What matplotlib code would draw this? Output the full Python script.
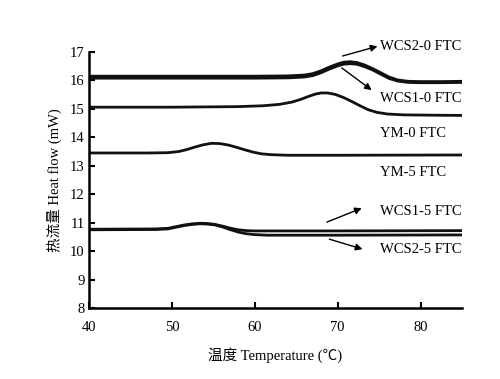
import matplotlib
matplotlib.use("Agg")
import matplotlib.pyplot as plt

plt.rcParams['font.family'] = ['Liberation Serif', 'Noto Sans CJK SC', 'DejaVu Sans']

# Data
x_wcs0 = [40, 50, 60, 64, 66, 67, 68, 69, 70, 70.7, 71.5, 72.3, 73.2, 74.2, 75.2, 76.2, 77.2, 78.5, 80, 82.5, 85]
y_wcs2_0 = [16.15, 16.15, 16.15, 16.16, 16.19, 16.24, 16.34, 16.47, 16.58, 16.64, 16.66, 16.63, 16.55, 16.42,
            16.27, 16.12, 16.02, 15.97, 15.96, 15.96, 15.97]
y_wcs1_0 = [16.08, 16.08, 16.08, 16.09, 16.12, 16.17, 16.27, 16.40, 16.51, 16.57, 16.59, 16.57, 16.49, 16.37,
            16.22, 16.07, 15.98, 15.93, 15.92, 15.92, 15.93]

x_ym0 = [40, 50, 58, 61, 63, 64.5, 65.5, 66.5, 67.3, 68, 68.8, 69.7, 70.7, 71.7, 72.7, 73.7, 74.7, 76, 78, 81, 85]
y_ym0 = [15.06, 15.06, 15.08, 15.11, 15.16, 15.24, 15.33, 15.44, 15.52, 15.56, 15.56, 15.51, 15.40, 15.26,
         15.11, 14.97, 14.88, 14.82, 14.79, 14.78, 14.77]

x_ym5 = [40, 47, 49.5, 50.8, 51.8, 52.8, 53.8, 54.8, 55.8, 56.8, 57.8, 58.8, 59.8, 60.8, 62, 64, 70, 85]
y_ym5 = [13.45, 13.45, 13.46, 13.50, 13.57, 13.66, 13.74, 13.79, 13.78, 13.73, 13.65, 13.56, 13.48, 13.42,
         13.39, 13.37, 13.37, 13.38]

x_wcs5 = [40, 48, 49.5, 50.5, 51.5, 52.5, 53.4, 54.3, 55.2, 56.1, 57, 58, 59, 60, 61.5, 64, 70, 85]
y_wcs1_5 = [10.77, 10.78, 10.80, 10.86, 10.92, 10.96, 10.98, 10.97, 10.94, 10.88, 10.81, 10.75, 10.72, 10.71,
            10.71, 10.71, 10.71, 10.72]
y_wcs2_5 = [10.75, 10.76, 10.78, 10.84, 10.90, 10.94, 10.96, 10.95, 10.92, 10.85, 10.76, 10.67, 10.61, 10.58,
            10.56, 10.56, 10.56, 10.57]

labels = ['WCS2-0 FTC', 'WCS1-0 FTC', 'YM-0 FTC', 'YM-5 FTC', 'WCS1-5 FTC', 'WCS2-5 FTC']
label_y = [17.21, 15.38, 14.15, 12.78, 11.41, 10.04]

xticks = [40, 50, 60, 70, 80]
yticks = [8, 9, 10, 11, 12, 13, 14, 15, 16, 17]

fig = plt.figure(figsize=(5.0, 3.79), dpi=100)
ax = fig.add_axes([0.178, 0.1873, 0.746, 0.6755])

lc = '#111111'
lw = 2.0
kw = dict(color=lc, lw=lw, solid_joinstyle='round', solid_capstyle='butt')
ax.plot(x_wcs0, y_wcs2_0, **kw)
ax.plot(x_wcs0, y_wcs1_0, **kw)
ax.plot(x_ym0, y_ym0, **kw)
ax.plot(x_ym5, y_ym5, **kw)
ax.plot(x_wcs5, y_wcs1_5, **kw)
ax.plot(x_wcs5, y_wcs2_5, **kw)

ax.set_xlim(40, 85)
ax.set_ylim(8, 17)
ax.set_xticks(xticks)
ax.set_yticks(yticks)
ax.tick_params(direction='in', length=4, width=1.5, labelsize=10.5, colors='black')
ax.tick_params(axis='y', pad=3)
ax.tick_params(axis='x', pad=9)
for s in ['top', 'right']:
    ax.spines[s].set_visible(False)
for s in ['left', 'bottom']:
    ax.spines[s].set_linewidth(1.8)

ax.set_xlabel('温度 Temperature (℃)', fontsize=10.5, labelpad=10)
ax.set_ylabel('热流量 Heat flow (mW)', fontsize=10.5, labelpad=6)

for lab, ly in zip(labels, label_y):
    ax.text(75.1, ly, lab, fontsize=10.5, va='center', ha='left', clip_on=False)

arrows = [((70.6, 16.86), (74.8, 17.2)),
          ((70.5, 16.44), (74.1, 15.66)),
          ((68.7, 11.02), (72.9, 11.51)),
          ((69.0, 10.42), (73.0, 10.07))]
for tail, head in arrows:
    ax.annotate('', xy=head, xytext=tail, annotation_clip=False,
                arrowprops=dict(arrowstyle='-|>', color='black', lw=1.0,
                                mutation_scale=10, shrinkA=0, shrinkB=0))

fig.savefig('out.png', dpi=100)
